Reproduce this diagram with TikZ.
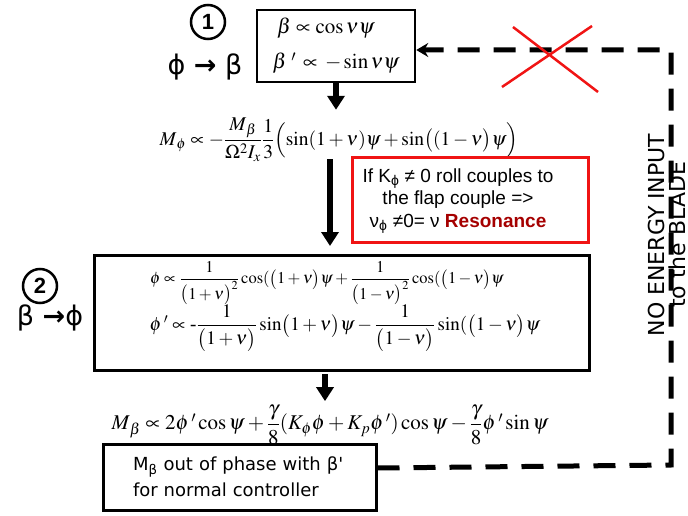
\documentclass[tikz,border=0pt]{standalone}
\usepackage{amsmath}
\usepackage{mathptmx}
\usepackage[no-math]{fontspec}
\setmainfont{Liberation Serif}
\newfontfamily\arialfont{Liberation Sans}
\newfontfamily\handfont{DejaVu Sans}
\usetikzlibrary{arrows.meta,positioning,calc}
\definecolor{notered}{RGB}{240,20,20}
\definecolor{resored}{RGB}{165,0,0}
\tikzset{
    eqbox/.style={draw, line width=2.5pt, inner sep=0pt},
    notebox/.style={draw=notered, line width=3pt, inner sep=0pt},
    notetext/.style={inner sep=0pt, align=center, font=\arialfont\fontsize{19}{22.5}\selectfont},
    handbox/.style={draw, fill=white, line width=3pt, inner xsep=30pt, align=left, font=\handfont\fontsize{18}{26}\selectfont},
    eq/.style={inner sep=0pt},
    stepnum/.style={circle, draw, line width=2.5pt, minimum size=34pt, inner sep=0pt, font=\arialfont\bfseries\fontsize{22}{22}\selectfont},
    steplabel/.style={inner sep=0pt, font=\handfont\fontsize{27}{27}\selectfont},
    sidenote/.style={inner sep=0pt, align=center, font=\handfont\fontsize{22}{21}\selectfont},
    fatarrow/.style={line width=6pt, -{Triangle[length=14pt,width=17pt]}},
    feedback/.style={line width=5pt, dash pattern=on 22pt off 14pt, -{Stealth[length=12pt,width=14pt,inset=4pt]}},
    cross/.style={notered, line width=2.5pt},
}
\begin{document}
\begin{tikzpicture}[x=1pt,y=-1pt]
    \useasboundingbox (0,0) rectangle (688,516);
    \node[stepnum] (one) at (208,22) {1};
    \node[steplabel] (flap) at (205,67) {ϕ {\bfseries→} β};
    \node[eqbox, minimum width=158pt, minimum height=72pt, align=left, font=\fontsize{21}{35}\selectfont] (box1) at (336,46)
        {$\;\beta\propto\cos\nu\psi$\\$\beta\;'\,\propto\,-\sin\nu\psi$};
    \node[eq, font=\fontsize{19.5}{22}\selectfont] (mphi) at (339,140)
        {$\boldsymbol{M}_{\phi}\propto-\dfrac{\boldsymbol{M}_{\beta}}{\Omega^2 I_x}\dfrac{1}{3}\Bigl(\sin(1+\nu)\psi+\sin\bigl((1-\nu\bigr)\psi\Bigr)$};
    \draw[fatarrow, shorten >=8pt] (box1.south) -- (box1.south |- mphi.north);
    \node[notebox, minimum width=236pt, minimum height=84pt] (note) at (470,200) {};
    \node[notetext] (coupling) at (458,201)
        {If K\textsubscript{ϕ} ≠ 0 roll couples to\\the flap couple =>\\ν\textsubscript{ϕ} ≠0= ν {\bfseries\color{resored}Resonance}};
    \node[eqbox, line width=3pt, minimum width=495pt, minimum height=115pt] (box2) at (342,313) {};
    \node[eq, font=\fontsize{16.5}{18}\selectfont] (phi) at (327,283)
        {$\phi\propto\dfrac{1}{\bigl(1+\nu\bigr)^2}\cos(\bigl(1+\nu\bigr)\psi+\dfrac{1}{\bigl(1-\nu\bigr)^2}\cos(\bigl(1-\nu\bigr)\psi$};
    \node[eq, font=\fontsize{19}{22}\selectfont] (dphi) at (345,328)
        {$\phi\,'\propto\text{-}\dfrac{1}{\bigl(1+\nu\bigr)}\sin\bigl(1+\nu\bigr)\psi-\dfrac{1}{\bigl(1-\nu\bigr)}\sin(\bigl(1-\nu\bigr)\psi$};
    \node[stepnum] (two) at (40,286) {2};
    \node[steplabel] (roll) at (50,318) {β {\bfseries→}ϕ};
    \draw[fatarrow, shorten >=8pt] ([xshift=-9pt,yshift=3pt]mphi.south) -- ([xshift=-12pt]box2.north);
    \node[eq, font=\fontsize{21}{24}\selectfont] (mbeta) at (330,425)
        {$\boldsymbol{M}_{\beta}\propto2\phi\,'\cos\psi+\dfrac{\gamma}{8}(K_{\phi}\phi+K_p\phi\,')\cos\psi-\dfrac{\gamma}{8}\phi\,'\sin\psi$};
    \draw[fatarrow, shorten <=2pt, shorten >=4pt] ([xshift=-17pt]box2.south) -- ([xshift=-5pt]mbeta.north);
    \node[handbox, minimum width=273pt, minimum height=66pt, text width=213pt] (box3) at (239.5,477)
        {M\textsubscript{β} out of phase with β'\\for normal controller};
    \node[sidenote, rotate=90] (noinput) at (667,235) {NO ENERGY INPUT\\to the BLADE};
    \coordinate (low) at (671,465);
    \coordinate (high) at (671,50);
    \draw[feedback] ([yshift=9pt]box3.east) -- (low) -- (high) -- ([yshift=-4pt]box1.east);
    \draw[cross] (513,27) -- (598,92) (592,26) -- (502,87);
\end{tikzpicture}
\end{document}
